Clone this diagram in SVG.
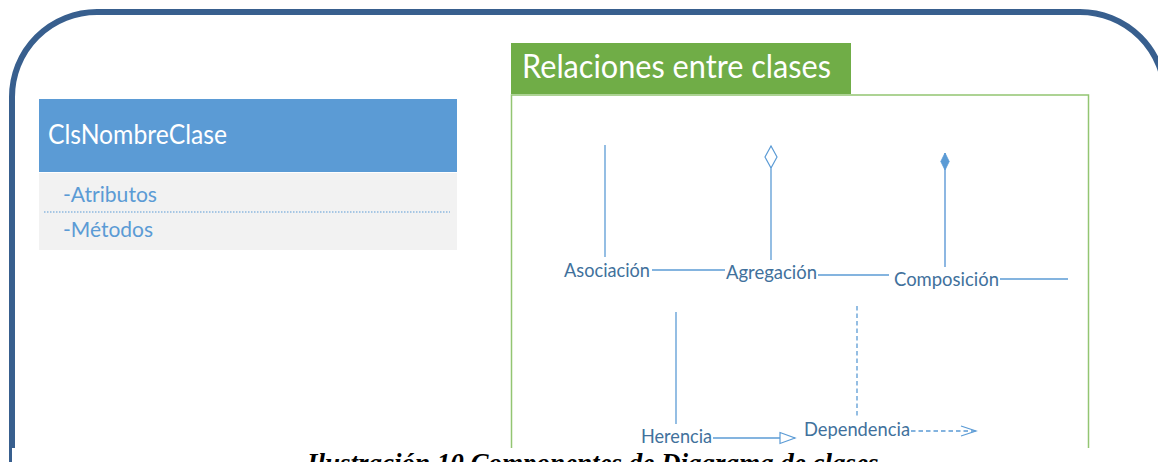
<svg xmlns="http://www.w3.org/2000/svg" width="1158" height="462" viewBox="0 0 1158 462">
<style>
.lbl{font-family:Lato,"Open Sans","Liberation Sans",sans-serif;font-size:20px;fill:#41719C}
.ln{stroke:#5B9BD5;stroke-width:1.3;fill:none}
.dash{stroke-dasharray:4.5 3}
.attr{font-family:Lato,"Open Sans","Liberation Sans",sans-serif;font-size:21px;fill:#5B9BD5}
</style>
<defs>
<marker id="odiam" markerUnits="userSpaceOnUse" markerWidth="24" markerHeight="14" viewBox="0 -7 24 14" refX="22" refY="0" orient="auto">
<path d="M0,0 L11,-6 L22,0 L11,6 Z" fill="#fff" stroke="#5B9BD5" stroke-width="1.2"/>
</marker>
<marker id="fdiam" markerUnits="userSpaceOnUse" markerWidth="20" markerHeight="10" viewBox="0 -5 20 10" refX="17" refY="0" orient="auto">
<path d="M0,0 L8.5,-4.2 L17,0 L8.5,4.2 Z" fill="#5B9BD5" stroke="#5B9BD5" stroke-width="0.8"/>
</marker>
<marker id="otri" markerUnits="userSpaceOnUse" markerWidth="18" markerHeight="14" viewBox="-1 -7 18 14" refX="15" refY="0" orient="auto">
<path d="M0,-5.5 L15,0 L0,5.5 Z" fill="#fff" stroke="#5B9BD5" stroke-width="1.2"/>
</marker>
<marker id="chev" markerUnits="userSpaceOnUse" markerWidth="18" markerHeight="14" viewBox="-1 -7 18 14" refX="15" refY="0" orient="auto">
<path d="M0,-5 L15,0 L0,5" fill="none" stroke="#5B9BD5" stroke-width="1.2" stroke-dasharray="none"/>
</marker>
</defs>
<rect width="1158" height="462" fill="#fff"/>
<g id="frame">
<path d="M12,470 L12,97 A85,85 0 0 1 97,12 L1080,12 A85,85 0 0 1 1165,97 L1165,470" fill="none" stroke="#385F8E" stroke-width="6"/>
</g>
<g id="class-box">
<rect x="39" y="99" width="418" height="73" fill="#5B9BD5"/>
<rect x="39" y="173" width="418" height="77" fill="#F2F2F2"/>
<text x="48" y="144" font-family="Lato,'Open Sans','Liberation Sans',sans-serif" font-size="27" fill="#fff" textLength="179" lengthAdjust="spacingAndGlyphs">ClsNombreClase</text>
<text class="attr" x="63" y="202" textLength="94" lengthAdjust="spacingAndGlyphs">-Atributos</text>
<line x1="44" y1="212" x2="450" y2="212" stroke="#5B9BD5" stroke-width="1" stroke-dasharray="1.5 1.5"/>
<text class="attr" x="63" y="237" textLength="90" lengthAdjust="spacingAndGlyphs">-Métodos</text>
</g>
<g id="relaciones-panel">
<rect x="511.5" y="95" width="577" height="380" fill="none" stroke="#93C572" stroke-width="1.5"/>
<rect x="511" y="43" width="340" height="51" fill="#70AD47"/>
<text x="522" y="78" font-family="Lato,'Open Sans','Liberation Sans',sans-serif" font-size="32" fill="#fff" textLength="309" lengthAdjust="spacingAndGlyphs">Relaciones entre clases</text>
</g>
<g id="asociacion"><text class="lbl" x="564" y="277" textLength="86" lengthAdjust="spacingAndGlyphs">Asociación</text></g>
<g id="agregacion"><text class="lbl" x="726" y="279" textLength="91" lengthAdjust="spacingAndGlyphs">Agregación</text></g>
<g id="composicion"><text class="lbl" x="894" y="286" textLength="105" lengthAdjust="spacingAndGlyphs">Composición</text></g>
<g id="herencia"><text class="lbl" x="641" y="443" textLength="71" lengthAdjust="spacingAndGlyphs">Herencia</text></g>
<g id="dependencia"><text class="lbl" x="804" y="436" textLength="106" lengthAdjust="spacingAndGlyphs">Dependencia</text></g>
<g id="connectors">
<line class="ln" x1="605" y1="145" x2="605" y2="257"/>
<line class="ln" x1="652" y1="270" x2="725" y2="270"/>
<line class="ln" x1="771" y1="260" x2="771" y2="146" marker-end="url(#odiam)"/>
<line class="ln" x1="818" y1="275" x2="889" y2="275"/>
<line x1="945" y1="267" x2="945" y2="153" stroke="#8DB7E2" stroke-width="2" marker-end="url(#fdiam)"/>
<line class="ln" x1="1000" y1="279" x2="1068" y2="279"/>
<line class="ln" x1="676" y1="312" x2="676" y2="424"/>
<line class="ln" x1="713" y1="438" x2="795" y2="438" marker-end="url(#otri)"/>
<line class="ln dash" x1="857" y1="306" x2="857" y2="418"/>
<line class="ln dash" x1="911" y1="431" x2="976" y2="431" marker-end="url(#chev)"/>
</g>
<rect x="12" y="448" width="1146" height="20" fill="#fff"/>
<text x="307" y="472" font-family="'Liberation Serif','Times New Roman',serif" font-size="27" font-weight="bold" font-style="italic" fill="#000">Ilustración 10 Componentes de Diagrama de clases</text>
</svg>
